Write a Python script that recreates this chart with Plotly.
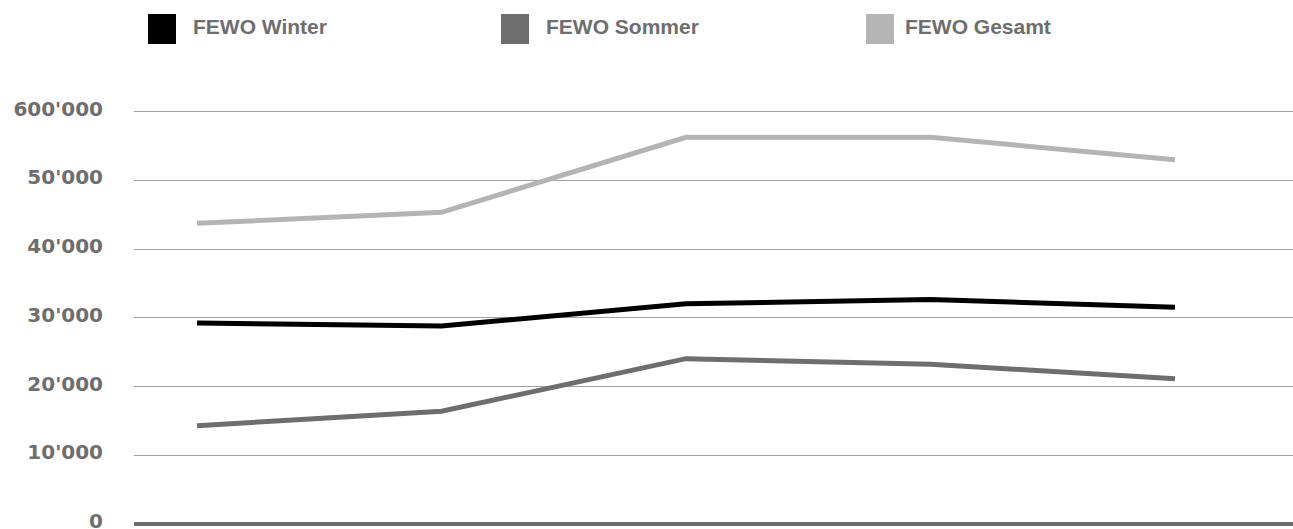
import plotly.graph_objects as go

# ---- data ----
categories = ["P1", "P2", "P3", "P4", "P5"]
fewo_winter = [29250, 28800, 32050, 32650, 31530]
fewo_sommer = [14300, 16400, 24050, 23230, 21140]
fewo_gesamt = [43750, 45350, 56270, 56270, 53010]
tick_values = [0, 10000, 20000, 30000, 40000, 50000, 60000]
tick_labels = ["0", "10'000", "20'000", "30'000", "40'000", "50'000", "600'000"]
series_names = ["FEWO Winter", "FEWO Sommer", "FEWO Gesamt"]
series_colors = ["#000000", "#6e6e6e", "#b4b4b4"]

W, H = 1293, 529
ML, MR, MT, MB = 134, 0, 100, 0
PW, PH = W - ML - MR, H - MT - MB

def px_x(p):
    return (p - ML) / PW

def px_y(p):
    return (H - MB - p) / PH

fig = go.Figure()
for name, vals, col in zip(series_names, [fewo_winter, fewo_sommer, fewo_gesamt], series_colors):
    fig.add_trace(go.Scatter(
        x=list(range(len(categories))), y=vals, name=name, mode="lines",
        line=dict(color=col, width=5), showlegend=False, hoverinfo="skip",
    ))

# custom legend (square swatches + bold labels)
legend_pos = [(148, 191), (501, 544), (866, 903)]
shapes = []
annotations = []
for (bx, tx), name, col in zip(legend_pos, series_names, series_colors):
    shapes.append(dict(type="rect", xref="paper", yref="paper",
                       x0=px_x(bx), x1=px_x(bx + 28), y0=px_y(44), y1=px_y(14),
                       fillcolor=col, line=dict(width=0)))
    annotations.append(dict(text=name, xref="paper", yref="paper",
                            x=px_x(tx), y=px_y(26), xanchor="left", yanchor="middle",
                            showarrow=False,
                            font=dict(family="Liberation Sans", size=21, color="#6e6e6e", weight="bold")))

fig.update_layout(
    width=W, height=H,
    margin=dict(l=ML, r=MR, t=MT, b=MB, pad=0, autoexpand=False),
    paper_bgcolor="white", plot_bgcolor="white",
    shapes=shapes, annotations=annotations,
    xaxis=dict(range=[-0.258, 4.483], showgrid=False, zeroline=False, automargin=False,
               showticklabels=False, ticks="", showline=False, fixedrange=True),
    yaxis=dict(range=[-742, 61703], tickvals=tick_values, ticktext=tick_labels,
               showgrid=True, gridcolor="#a0a0a0", gridwidth=1, automargin=False,
               zeroline=True, zerolinecolor="#6e6e6e", zerolinewidth=4,
               ticks="", showline=False, ticklabelstandoff=30, ticklabelshift=-3,
               ticklabeloverflow="allow",
               tickfont=dict(family="DejaVu Sans", size=20, color="#6e6e6e", weight="bold"),
               fixedrange=True),
    showlegend=False,
)

fig.write_html("out.html", config={"displayModeBar": False})
